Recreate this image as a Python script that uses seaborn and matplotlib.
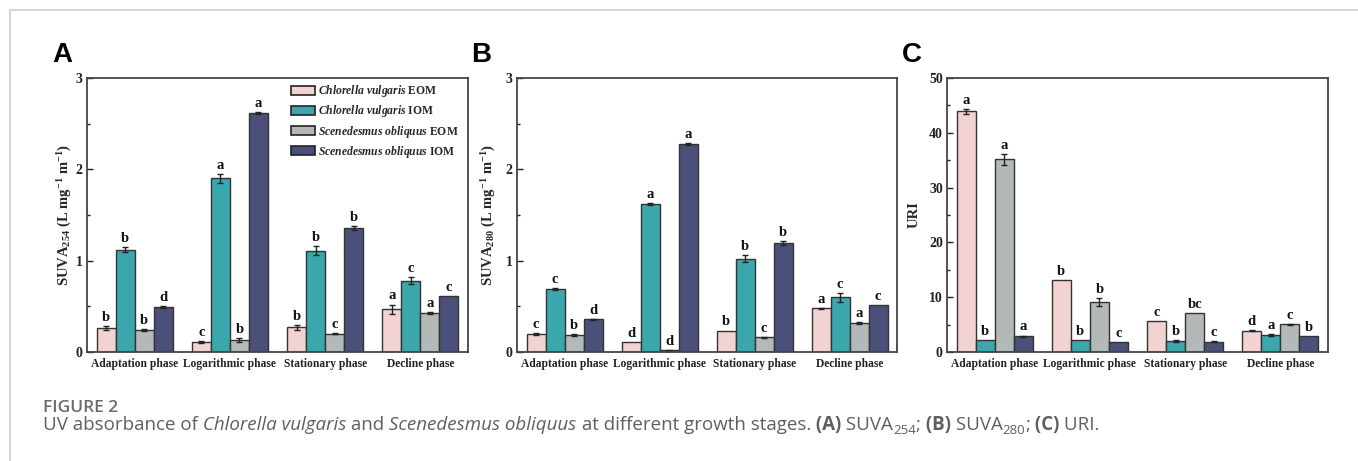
import numpy as np
import pandas as pd
import matplotlib
matplotlib.use("Agg")
import matplotlib.pyplot as plt
import seaborn as sns
from matplotlib.lines import Line2D
from matplotlib.ticker import MultipleLocator

# data
phases = ["Adaptation phase", "Logarithmic phase", "Stationary phase", "Decline phase"]
series = ["CV EOM", "CV IOM", "SO EOM", "SO IOM"]
legend_labels = [r"$\mathit{Chlorella\ vulgaris}$ EOM",
                 r"$\mathit{Chlorella\ vulgaris}$ IOM",
                 r"$\mathit{Scenedesmus\ obliquus}$ EOM",
                 r"$\mathit{Scenedesmus\ obliquus}$ IOM"]
colors = ["#f2d3d2", "#3aa7ad", "#b3b9b8", "#4a5079"]

# values: rows = series, cols = phases
suva254 = [[0.26, 0.11, 0.27, 0.47],
           [1.12, 1.90, 1.11, 0.78],
           [0.24, 0.13, 0.20, 0.43],
           [0.49, 2.62, 1.36, 0.61]]
suva254_err = [[0.02, 0.01, 0.03, 0.05],
               [0.03, 0.05, 0.05, 0.04],
               [0.01, 0.02, 0.005, 0.01],
               [0.01, 0.01, 0.02, 0.0]]
suva254_let = [["b", "c", "b", "a"],
               ["b", "a", "b", "c"],
               ["b", "b", "c", "a"],
               ["d", "a", "b", "c"]]

suva280 = [[0.20, 0.105, 0.235, 0.48],
           [0.69, 1.62, 1.02, 0.60],
           [0.19, 0.02, 0.16, 0.32],
           [0.36, 2.28, 1.19, 0.51]]
suva280_err = [[0.01, 0.0, 0.0, 0.005],
               [0.01, 0.01, 0.04, 0.05],
               [0.01, 0.005, 0.005, 0.01],
               [0.005, 0.01, 0.02, 0.0]]
suva280_let = [["c", "d", "b", "a"],
               ["c", "a", "b", "c"],
               ["b", "d", "c", "a"],
               ["d", "a", "b", "c"]]

uri = [[43.9, 13.2, 5.6, 3.9],
       [2.1, 2.1, 2.0, 3.05],
       [35.2, 9.1, 7.1, 5.06],
       [2.9, 1.9, 1.9, 2.85]]
uri_err = [[0.5, 0.0, 0.0, 0.1],
           [0.0, 0.0, 0.1, 0.2],
           [1.0, 0.7, 0.0, 0.1],
           [0.1, 0.0, 0.1, 0.0]]
uri_let = [["a", "b", "c", "d"],
           ["b", "b", "b", "a"],
           ["a", "b", "bc", "c"],
           ["a", "c", "c", "b"]]

sns.set_theme(style="white")
plt.rcParams["font.family"] = ["Liberation Serif", "DejaVu Serif"]
plt.rcParams["font.weight"] = "bold"
plt.rcParams["mathtext.fontset"] = "custom"
plt.rcParams["mathtext.rm"] = "Liberation Serif:bold"
plt.rcParams["mathtext.it"] = "Liberation Serif:italic:bold"
plt.rcParams["mathtext.bf"] = "Liberation Serif:bold"

W, H = 1358, 461
fig = plt.figure(figsize=(W / 100, H / 100), dpi=100)


def long_df(vals):
    rows = []
    for s, name in enumerate(series):
        for p, ph in enumerate(phases):
            rows.append({"phase": ph, "series": name, "value": vals[s][p]})
    return pd.DataFrame(rows)


def panel(left, right, vals, errs, lets, ylim, major, ylabel, lpad, legend=False):
    ax = fig.add_axes([left / W, 1 - 352 / H, (right - left) / W, (352 - 78) / H])
    df = long_df(vals)
    sns.barplot(data=df, x="phase", y="value", hue="series", order=phases,
                hue_order=series, palette=colors, errorbar=None, width=0.8,
                edgecolor="#333333", linewidth=1.0, saturation=1, ax=ax,
                legend=legend)
    bar_conts = list(ax.containers)
    for s, cont in enumerate(bar_conts):
        for p, bar in enumerate(cont.patches):
            xc = bar.get_x() + bar.get_width() / 2
            v = vals[s][p]
            e = errs[s][p]
            if e > 0:
                ax.errorbar(xc, v, yerr=e, fmt="none", ecolor="#222222",
                            elinewidth=1.0, capsize=2.5, capthick=1.0)
            ax.annotate(lets[s][p], (xc, v + e), xytext=(0, 1.5),
                        textcoords="offset points", ha="center", va="bottom",
                        fontsize=10.5, fontweight="bold", color="#111111")
    ax.set_ylim(*ylim)
    ax.set_xlim(-0.5, 3.5)
    ax.yaxis.set_major_locator(MultipleLocator(major))
    ax.yaxis.set_minor_locator(MultipleLocator(major / 2))
    ax.tick_params(axis="y", which="both", direction="in", left=True,
                   labelsize=10, pad=3, colors="#222222")
    ax.tick_params(axis="y", which="major", length=4, width=1)
    ax.tick_params(axis="y", which="minor", length=2.5, width=1)
    ax.tick_params(axis="x", length=0, labelsize=8.3, pad=4, colors="#222222")
    for lab in ax.get_xticklabels() + ax.get_yticklabels():
        lab.set_fontweight("bold")
    ax.set_xlabel("")
    ax.set_ylabel(ylabel, fontsize=10.5, fontweight="bold", labelpad=lpad)
    for sp in ax.spines.values():
        sp.set_color("#444444")
        sp.set_linewidth(1.3)
    if legend:
        h, _ = ax.get_legend_handles_labels()
        for hd in h:
            hd.set_edgecolor("#222222")
            hd.set_linewidth(1.2)
        ax.legend(h, legend_labels, loc="upper right", frameon=False,
                  fontsize=8.4, handlelength=2.0, handleheight=0.8,
                  handletextpad=0.3, labelspacing=0.36, borderaxespad=0.25,
                  borderpad=0.2, bbox_to_anchor=(0.99, 1.0))
    return ax


panel(87, 468, suva254, suva254_err, suva254_let, (0, 3), 1,
      r"SUVA$_{\mathrm{254}}$ (L mg$^{\mathrm{-1}}$ m$^{\mathrm{-1}}$)", 1.5,
      legend=True)
panel(517, 897, suva280, suva280_err, suva280_let, (0, 3), 1,
      r"SUVA$_{\mathrm{280}}$ (L mg$^{\mathrm{-1}}$ m$^{\mathrm{-1}}$)", 6)
panel(947, 1328, uri, uri_err, uri_let, (0, 50), 10, "URI", 6)

# panel letters
for x, s in [(52, "A"), (471, "B"), (902, "C")]:
    fig.text(x / W, 1 - 62 / H, s, fontsize=20, fontweight="bold",
             family="Liberation Sans", va="baseline", color="black")

# page frame lines
fig.add_artist(Line2D([10 / W, 1], [1 - 10 / H, 1 - 10 / H],
                      transform=fig.transFigure, color="#d6d6d6", lw=1.5))
fig.add_artist(Line2D([10 / W, 10 / W], [0, 1 - 10 / H],
                      transform=fig.transFigure, color="#d6d6d6", lw=1.5))

# caption
cap_col = "#5f5f5f"
fig.text(43 / W, 1 - 412 / H, "FIGURE 2", fontsize=12.5, family="Open Sans",
         fontweight="semibold", color="#6a6a6a", va="baseline")

pieces = [("UV absorbance of", "normal", "normal", 0),
          (" Chlorella vulgaris", "italic", "normal", 0),
          (" and", "normal", "normal", 0),
          (" Scenedesmus obliquus", "italic", "normal", 0),
          (" at different growth stages.", "normal", "normal", 0),
          (" (A)", "normal", "bold", 0),
          (" SUVA", "normal", "normal", 0),
          ("254", "normal", "normal", -1),
          (";", "normal", "normal", 0),
          (" (B)", "normal", "bold", 0),
          (" SUVA", "normal", "normal", 0),
          ("280", "normal", "normal", -1),
          (";", "normal", "normal", 0),
          (" (C)", "normal", "bold", 0),
          (" URI.", "normal", "normal", 0)]
renderer = fig.canvas.get_renderer()
x = 43
base = 1 - 430 / H
for txt, style, weight, sub in pieces:
    size = 13.5 if sub == 0 else 9.5
    y = base if sub == 0 else base - 4 / H
    t = fig.text(x / W, y, txt, fontsize=size, family="Open Sans",
                 style=style, fontweight=weight, color=cap_col, va="baseline")
    bb = t.get_window_extent(renderer)
    x = bb.x1

fig.savefig("out.png", dpi=100)
